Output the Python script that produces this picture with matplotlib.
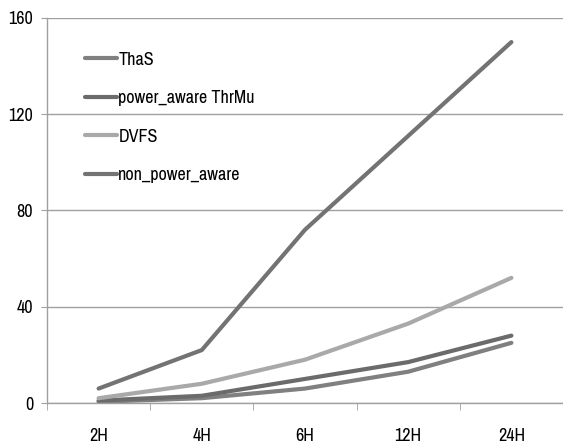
import matplotlib
matplotlib.use("Agg")
import matplotlib.pyplot as plt
from matplotlib import font_manager
import numpy as np

categories = ["2H", "4H", "6H", "12H", "24H"]
series_names = ["ThaS", "power_aware ThrMu", "DVFS", "non_power_aware"]
thas = [0.5, 2, 6, 13, 25]
power_aware_thrmu = [1, 3, 10, 17, 28]
dvfs = [2, 8, 18, 33, 52]
non_power_aware = [6, 22, 72, 111, 150]
y_ticks = [0, 40, 80, 120, 160]

series_values = [thas, power_aware_thrmu, dvfs, non_power_aware]
colors = ["#808080", "#6b6b6b", "#a9a9a9", "#737373"]

names = {f.name for f in font_manager.fontManager.ttflist}
narrow = [n for n in sorted(names) if ("Narrow" in n or "Condensed" in n)]
fam = narrow[:1] + ['Liberation Sans', 'DejaVu Sans']
plt.rcParams['font.family'] = fam

fs = 13
fig = plt.figure(figsize=(5.63, 4.44), dpi=100)
ax = fig.add_axes([47/563, 1-403/444, 1-47/563, (403-18)/444])

x = np.arange(len(categories))
for name, vals, c in zip(series_names, series_values, colors):
    ax.plot(x, vals, color=c, lw=3.0, solid_capstyle='round',
            solid_joinstyle='round', label=name)

ax.set_xlim(-0.5, len(categories) - 0.5)
ax.set_ylim(0, 160)
ax.set_yticks(y_ticks)
ax.set_yticklabels([str(v) for v in y_ticks], fontsize=fs)
ax.yaxis.grid(True, color="#a0a0a0", lw=1.0)
ax.set_axisbelow(True)

ax.set_xticks(x)
ax.set_xticklabels(categories, fontsize=fs)
ax.tick_params(axis='x', which='major', length=0, pad=18)
ax.set_xticks(np.arange(-0.5, len(categories)), minor=True)
ax.tick_params(axis='x', which='minor', length=5, color="#a0a0a0", direction='out')
ax.tick_params(axis='y', length=4, color="#a0a0a0", pad=6)

for s in ["top", "right"]:
    ax.spines[s].set_visible(False)
for s in ["left", "bottom"]:
    ax.spines[s].set_color("#a0a0a0")
    ax.spines[s].set_linewidth(1.0)

leg = ax.legend(loc="upper left", bbox_to_anchor=(0.042, 0.955), frameon=False,
                fontsize=fs, handlelength=1.75, handletextpad=0.1,
                labelspacing=1.25)

fig.savefig("out.png", dpi=100)
